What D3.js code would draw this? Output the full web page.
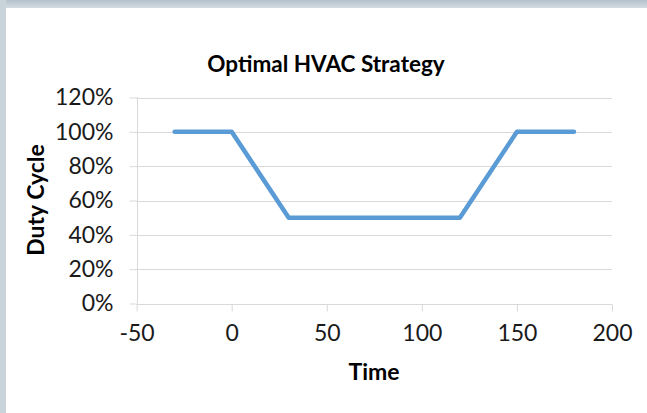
<!DOCTYPE html>
<html><head><meta charset="utf-8">
<script src="https://cdn.jsdelivr.net/npm/d3@7"></script>
<style>
html,body{margin:0;padding:0;background:#fff;}
svg{display:block;}
text{font-family:Lato,"Open Sans",sans-serif;}
</style></head>
<body>
<script>
const times = [-30, 0, 30, 120, 150, 180];
const duty = [1.0, 1.0, 0.5, 0.5, 1.0, 1.0];
const xTicks = [-50, 0, 50, 100, 150, 200];
const yTicks = [0, 0.2, 0.4, 0.6, 0.8, 1.0, 1.2];
const title = "Optimal HVAC Strategy";
const xTitle = "Time";
const yTitle = "Duty Cycle";

(function () {
const W = 647, H = 413;
const svg = d3.select("body").append("svg").attr("width", W).attr("height", H);

// frame
const defs = svg.append("defs");
const gTop = defs.append("linearGradient").attr("id","gt").attr("x1",0).attr("x2",0).attr("y1",0).attr("y2",1);
gTop.append("stop").attr("offset","0%").attr("stop-color","#b4c2cc");
gTop.append("stop").attr("offset","100%").attr("stop-color","#d3dce2");
svg.append("rect").attr("x",0).attr("y",0).attr("width",W).attr("height",8).attr("fill","url(#gt)");
svg.append("rect").attr("x",0).attr("y",0).attr("width",6).attr("height",H).attr("fill","#c9d3da");

const pL = 136.6, pR = 612, pT = 97.5, pB = 303.5;
const x = d3.scaleLinear().domain([-50, 200]).range([pL, pR]);
const y = d3.scaleLinear().domain([0, 1.2]).range([pB, pT]);

// gridlines
svg.append("g").selectAll("line").data(yTicks.filter(d => d > 0)).join("line")
  .attr("x1", pL).attr("x2", pR)
  .attr("y1", d => Math.round(y(d)) + 0.5).attr("y2", d => Math.round(y(d)) + 0.5)
  .attr("stroke", "#d9d9d9").attr("stroke-width", 1);

// x axis
const xAxis = svg.append("g").attr("transform", `translate(0,${Math.round(pB)+0.5})`)
  .call(d3.axisBottom(x).tickValues(xTicks).tickSize(7).tickPadding(13).tickFormat(d => String(d)));
xAxis.select(".domain").attr("stroke", "#d9d9d9").attr("d", `M${pL},0H${pR}`);
xAxis.selectAll(".tick line").attr("stroke", "#d9d9d9");
xAxis.selectAll(".tick text").attr("font-size", 23).attr("fill", "#1a1a1a")
  .attr("font-family", "Lato, 'Open Sans', sans-serif");

// y axis
const yAxis = svg.append("g").attr("transform", `translate(${Math.round(pL)+0.5},0)`)
  .call(d3.axisLeft(y).tickValues(yTicks).tickSize(8).tickPadding(16).tickFormat(d => Math.round(d * 100) + "%"));
yAxis.select(".domain").attr("stroke", "#d9d9d9").attr("d", `M0,${pT}V${pB}`);
yAxis.selectAll(".tick line").attr("stroke", "#d9d9d9");
yAxis.selectAll(".tick text").attr("font-size", 23).attr("fill", "#1a1a1a")
  .attr("font-family", "Lato, 'Open Sans', sans-serif");

// line
const line = d3.line().x((d, i) => x(times[i])).y(d => y(d));
svg.append("path").datum(duty).attr("d", line)
  .attr("fill", "none").attr("stroke", "#5b9bd5").attr("stroke-width", 4.5)
  .attr("stroke-linejoin", "round").attr("stroke-linecap", "round");

// titles
svg.append("text").attr("x", 326).attr("y", 72).attr("text-anchor", "middle")
  .attr("font-size", 22.5).attr("font-weight", "bold").attr("fill", "#000").text(title);
svg.append("text").attr("x", 374).attr("y", 380).attr("text-anchor", "middle")
  .attr("font-size", 23).attr("font-weight", "bold").attr("fill", "#000").text(xTitle);
svg.append("text").attr("transform", "translate(44,200) rotate(-90)").attr("text-anchor", "middle")
  .attr("font-size", 23).attr("font-weight", "bold").attr("fill", "#000").text(yTitle);
})();
</script>
</body></html>
